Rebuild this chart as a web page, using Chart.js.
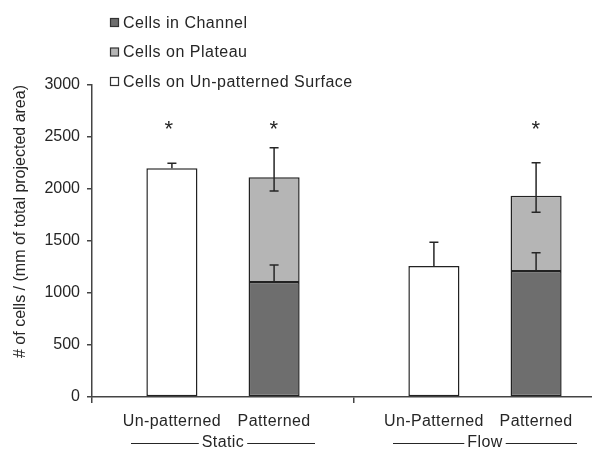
<!DOCTYPE html>
<html><head><meta charset="utf-8">
<script src="https://cdn.jsdelivr.net/npm/chart.js@4/dist/chart.umd.min.js"></script>
<style>
html,body{margin:0;padding:0;background:#fff;overflow:hidden;width:592px;height:454px}
#wrap{position:relative;width:620px;height:454px}
</style>
</head><body><div id="wrap"><canvas id="c" width="620" height="454"></canvas></div>
<script>
// ---- data ----
const groups = ['Static', 'Flow'];
const barLabels = [['Un-patterned', 'Patterned'], ['Un-Patterned', 'Patterned']];
const unpatterned = [2199, 1260];
const channel = [1115, 1221];
const plateau = [997, 715];
const unpatternedErrUp = [48, 227];
const channelErrUp = [154, 167];
const plateauErrUp = [285, 317];
const plateauErrDown = [131, 160];
const starred = [[true, true], [false, true]]; // [group][un-patterned, patterned]
const starLevel = 2630;
const seriesNames = ['Cells on Un-patterned Surface', 'Cells in Channel', 'Cells on Plateau'];
const yTitle = '# of cells / (mm of total projected area)';

const FONT = '"Liberation Sans", Arial, sans-serif';
const INK = '#262626';
const AXIS = '#444';

const overlay = {
  id: 'overlay',
  afterDatasetsDraw(chart) {
    const ctx = chart.ctx, ys = chart.scales.y;
    const mU = chart.getDatasetMeta(0), mC = chart.getDatasetMeta(1);
    ctx.save();
    ctx.strokeStyle = INK; ctx.lineWidth = 1.5;
    const cap = 4.5;
    function err(xc, from, to, capLow) {
      const y1 = ys.getPixelForValue(from), y2 = ys.getPixelForValue(to);
      ctx.beginPath();
      ctx.moveTo(xc, y1); ctx.lineTo(xc, y2);
      ctx.moveTo(xc - cap, y2); ctx.lineTo(xc + cap, y2);
      if (capLow) { ctx.moveTo(xc - cap, y1); ctx.lineTo(xc + cap, y1); }
      ctx.stroke();
    }
    groups.forEach((g, i) => {
      const xu = mU.data[i].x, xp = mC.data[i].x;
      err(xu, unpatterned[i], unpatterned[i] + unpatternedErrUp[i], false);
      err(xp, channel[i], channel[i] + channelErrUp[i], false);
      const tot = channel[i] + plateau[i];
      err(xp, tot - plateauErrDown[i], tot + plateauErrUp[i], true);
    });
    ctx.restore();
  },
  afterDraw(chart) {
    const ctx = chart.ctx, ys = chart.scales.y, xs = chart.scales.x;
    const mU = chart.getDatasetMeta(0), mC = chart.getDatasetMeta(1);
    ctx.save();
    // legend (vertical list, top-left)
    const order = [1, 2, 0];
    order.forEach((di, k) => {
      const ds = chart.data.datasets[di];
      const cy = 22.5 + k * 29.5;
      ctx.fillStyle = ds.backgroundColor;
      ctx.fillRect(110.5, cy - 4, 8, 8);
      ctx.strokeStyle = '#333'; ctx.lineWidth = 1.2;
      ctx.strokeRect(110.5, cy - 4, 8, 8);
      ctx.fillStyle = INK;
      ctx.font = '16px ' + FONT;
      ctx.letterSpacing = '0.5px';
      ctx.textAlign = 'left'; ctx.textBaseline = 'middle';
      ctx.fillText(ds.label, 123, cy + 1);
    });
    // bar labels and group labels
    ctx.font = '16px ' + FONT;
    ctx.letterSpacing = '0.4px';
    ctx.fillStyle = INK; ctx.textBaseline = 'middle'; ctx.textAlign = 'center';
    groups.forEach((g, i) => {
      const xu = mU.data[i].x, xp = mC.data[i].x;
      ctx.fillText(barLabels[i][0], xu, 422);
      ctx.fillText(barLabels[i][1], xp, 422);
      const gc = xs.getPixelForValue(i);
      const gy = 443;
      ctx.fillText(g, gc, gy);
      const tw = ctx.measureText(g).width;
      ctx.strokeStyle = INK; ctx.lineWidth = 1;
      ctx.beginPath();
      ctx.moveTo(gc - 92, gy + 0.5); ctx.lineTo(gc - tw / 2 - 3, gy + 0.5);
      ctx.moveTo(gc + tw / 2 + 3, gy + 0.5); ctx.lineTo(gc + 92, gy + 0.5);
      ctx.stroke();
      // significance stars
      const fs = 22;
      ctx.font = fs + 'px ' + FONT;
      ctx.textBaseline = 'alphabetic';
      const sy = ys.getPixelForValue(starLevel) + 0.57 * fs;
      if (starred[i][0]) ctx.fillText('*', xu - 3, sy);
      if (starred[i][1]) ctx.fillText('*', xp, sy);
      ctx.font = '16px ' + FONT; ctx.textBaseline = 'middle';
    });
    ctx.restore();
  }
};

new Chart(document.getElementById('c'), {
  type: 'bar',
  data: {
    labels: groups,
    datasets: [
      { label: seriesNames[0], data: unpatterned, stack: 'u', backgroundColor: '#ffffff',
        borderColor: '#222', borderWidth: 1.5, borderSkipped: false },
      { label: seriesNames[1], data: channel, stack: 'p', backgroundColor: '#6e6e6e',
        borderColor: '#222', borderWidth: { top: 2.5, left: 1.5, right: 1.5, bottom: 1.5 }, borderSkipped: false },
      { label: seriesNames[2], data: plateau, stack: 'p', backgroundColor: '#b5b5b5',
        borderColor: '#222', borderWidth: 1.5, borderSkipped: 'start' }
    ]
  },
  options: {
    responsive: false,
    animation: false,
    events: [],
    categoryPercentage: 0.78,
    barPercentage: 0.5,
    layout: { padding: { left: 0, top: 85, right: 4, bottom: 0 } },
    plugins: { legend: { display: false }, tooltip: { enabled: false }, title: { display: false } },
    scales: {
      x: {
        stacked: true,
        offset: true,
        ticks: { display: false },
        grid: { display: true, offset: true, drawOnChartArea: false, drawTicks: true, tickLength: 6, color: AXIS, lineWidth: 1.5 },
        border: { display: true, color: AXIS, width: 1.5 },
        afterFit(s) { s.height = 57; }
      },
      y: {
        stacked: true,
        min: 0, max: 3000,
        ticks: { stepSize: 500, padding: 7, color: INK, font: { family: FONT, size: 16 },
                 callback: (v) => String(v) },
        grid: { drawOnChartArea: false, drawTicks: true, tickLength: 5, color: AXIS, lineWidth: 1.5 },
        border: { display: true, color: AXIS, width: 1.5 },
        title: { display: true, text: yTitle, align: 'end', color: INK, font: { family: FONT, size: 16 }, padding: { top: 11, bottom: 4 } },
        afterFit(s) { s.width = 92; }
      }
    }
  },
  plugins: [overlay]
});
</script>
</body></html>
